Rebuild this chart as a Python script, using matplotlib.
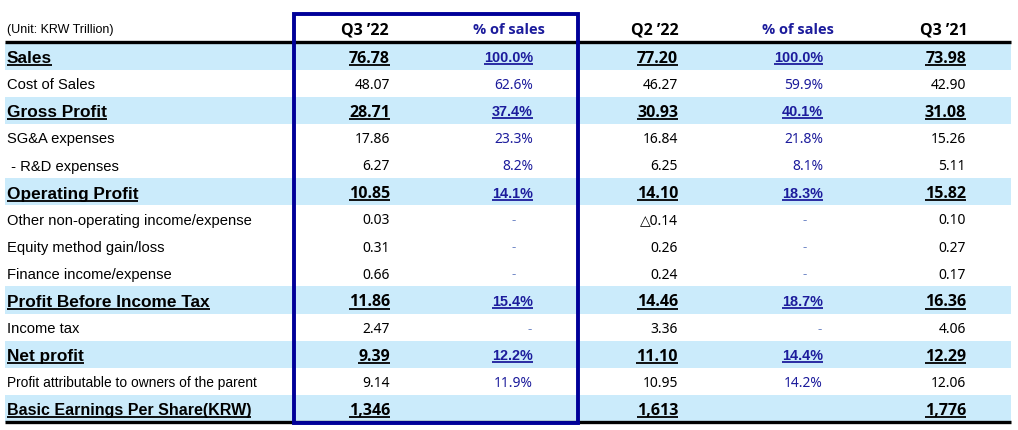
import matplotlib
matplotlib.use("Agg")
import matplotlib.pyplot as plt
from matplotlib.patches import Rectangle

# ---------------- data ----------------
unit_label = "(Unit: KRW Trillion)"
col_headers = ["Q3 \u201922", "% of sales", "Q2 \u201922", "% of sales", "Q3 \u201921"]
row_labels = ["Sales", "Cost of Sales", "Gross Profit", "SG&A expenses", " - R&D expenses",
              "Operating Profit", "Other non-operating income/expense", "Equity method gain/loss",
              "Finance income/expense", "Profit Before Income Tax", "Income tax", "Net profit",
              "Profit attributable to owners of the parent", "Basic Earnings Per Share(KRW)"]
bold_rows = [True, False, True, False, False, True, False, False, False, True, False, True, False, True]
q3_22 = ["76.78", "48.07", "28.71", "17.86", "6.27", "10.85", "0.03", "0.31", "0.66",
         "11.86", "2.47", "9.39", "9.14", "1,346"]
q3_22_pct = ["100.0%", "62.6%", "37.4%", "23.3%", "8.2%", "14.1%", "-", "-", "-",
             "15.4%", "-", "12.2%", "11.9%", ""]
q2_22 = ["77.20", "46.27", "30.93", "16.84", "6.25", "14.10", "\u25b30.14", "0.26", "0.24",
         "14.46", "3.36", "11.10", "10.95", "1,613"]
q2_22_pct = ["100.0%", "59.9%", "40.1%", "21.8%", "8.1%", "18.3%", "-", "-", "-",
             "18.7%", "-", "14.4%", "14.2%", ""]
q3_21 = ["73.98", "42.90", "31.08", "15.26", "5.11", "15.82", "0.10", "0.27", "0.17",
         "16.36", "4.06", "12.29", "12.06", "1,776"]

# ---------------- layout ----------------
W, H = 1018, 431
DPI = 100
fig = plt.figure(figsize=(W / DPI, H / DPI), dpi=DPI)
ax = fig.add_axes([0, 0, 1, 1])
ax.set_xlim(0, W)
ax.set_ylim(H, 0)
ax.axis("off")

LBL_FONT = "Liberation Sans"
NUM_FONT = ["Noto Sans", "DejaVu Sans"]
BOLD_NUM_FONT = ["Open Sans", "DejaVu Sans"]
NAVY = "#1c1c9c"
DASH = "#6f86c6"
SHADE = "#cbebfb"
BOXC = "#000099"

x_left, x_right = 5, 1011
row0, row_h = 43.5, 27.1
header_y = 29
value_right = [390, 533, 678, 823, 966]
header_cx = [365, 509, 655, 798, 944]
dash_cx = [514, 805]

columns = [q3_22, q3_22_pct, q2_22, q2_22_pct, q3_21]
is_pct = [False, True, False, True, False]


def put(x, yc, s, size, family, bold=False, color="black", ha="left"):
    """Place text so that its cap height is centred on yc."""
    return ax.text(x, yc + 0.48 * size, s, fontsize=size, family=family,
                   fontweight="bold" if bold else "normal", color=color,
                   ha=ha, va="baseline")


# shading
for i, b in enumerate(bold_rows):
    if b:
        ax.add_patch(Rectangle((x_left, row0 + i * row_h), x_right - x_left, row_h,
                               facecolor=SHADE, edgecolor="none", zorder=0))

# header
put(7, header_y, unit_label, 9, LBL_FONT)
for j, h in enumerate(col_headers):
    put(header_cx[j], header_y, h, 10.5 if is_pct[j] else 11.5, BOLD_NUM_FONT, bold=True,
        color=NAVY if is_pct[j] else "black", ha="center")

# rules
ax.plot([x_left, x_right], [row0 - 1, row0 - 1], color="black", lw=2.4, zorder=3,
        solid_capstyle="butt")
ybot = row0 + len(row_labels) * row_h
ax.plot([x_left, x_right], [ybot, ybot], color="black", lw=2.4, zorder=3,
        solid_capstyle="butt")

underline_targets = []
for i, lab in enumerate(row_labels):
    yc = row0 + (i + 0.5) * row_h
    b = bold_rows[i]
    if b:
        fs = 11.5 if i == 13 else 12.4
        t = put(7, yc, lab, fs, LBL_FONT, bold=True)
        underline_targets.append((t, yc + 0.48 * fs))
    else:
        fs = 9.9 if i == 12 else 10.6
        put(7, yc, lab, fs, LBL_FONT)
    for j, col in enumerate(columns):
        s = col[i]
        if not s:
            continue
        if s == "-":
            if i == 10:
                put(value_right[j] - 1, yc, s, 9.5, NUM_FONT, color=DASH, ha="right")
            else:
                put(dash_cx[j // 2], yc, s, 9.5, NUM_FONT, color=DASH, ha="center")
            continue
        color = NAVY if is_pct[j] else "black"
        if b:
            if is_pct[j]:
                fs = 10.4
                t = put(value_right[j], yc, s, fs, LBL_FONT, bold=True, color=color, ha="right")
            else:
                fs = 11.5
                t = put(value_right[j], yc, s, fs, BOLD_NUM_FONT, bold=True, color=color,
                        ha="right")
            underline_targets.append((t, yc + 0.48 * fs))
        else:
            put(value_right[j], yc, s, 10, NUM_FONT, color=color, ha="right")

# underlines measured from rendered text
fig.canvas.draw()
r = fig.canvas.get_renderer()
inv = ax.transData.inverted()
for t, base in underline_targets:
    bb = t.get_window_extent(renderer=r)
    (x0, _), (x1, _) = inv.transform([(bb.x0, bb.y0), (bb.x1, bb.y1)])
    ax.plot([x0, x1], [base + 3.2, base + 3.2], color=t.get_color(), lw=1.3, zorder=4,
            solid_capstyle="butt")

# highlight box around Q3 '22 columns
ax.add_patch(Rectangle((294, 15), 284, 409, facecolor="none", edgecolor=BOXC,
                       lw=2.8, zorder=5))

fig.savefig("out.png", dpi=DPI)
